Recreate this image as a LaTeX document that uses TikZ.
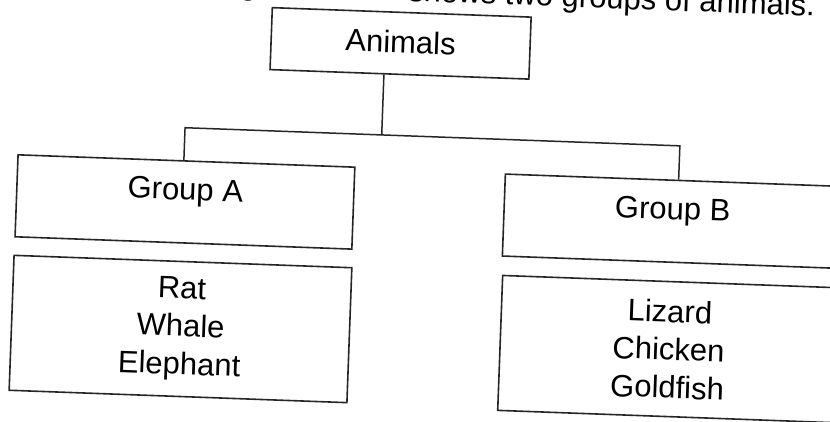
\documentclass[tikz,border=0pt]{standalone}
\usepackage{fontspec}
\setmainfont{Liberation Sans}
\usepackage{tikz}
\usetikzlibrary{calc}

\newcommand{\animfont}{\fontsize{31}{38}\selectfont}

\begin{document}
\begin{tikzpicture}[x=1pt,y=-1pt,
    box/.style={draw=black!85, line width=1.6pt, inner sep=0pt, align=center, font=\animfont},
    link/.style={draw=black!85, line width=1.5pt}]
    \useasboundingbox (0,0) rectangle (830,421);
    \clip (0,0) rectangle (830,421);
    \begin{scope}[rotate around={-2.1:(415,210)}, transform shape]
        % the sentence above, cut off by the page edge
        \node[anchor=base east, inner sep=0pt, font=\animfont] (title) at (807.5,1.5)
            {The diagram below shows two groups of animals.};
        \node[box, minimum width=259pt, text height=40.6pt, text depth=21.4pt] (animals) at (394.5,44) {Animals};
        \node[box, minimum width=337pt, text height=39pt, text depth=43pt] (grpA) at (184.8,210.4) {Group A};
        \node[box, minimum width=337pt, text height=39pt, text depth=43pt] (grpB) at (672.5,211.8) {Group B};
        \node[box, minimum width=338pt, minimum height=135pt] (listA) at (185,337.5) {Rat\\Whale\\Elephant};
        \node[box, minimum width=337pt, minimum height=135pt] (listB) at (673.5,339.7) {Lizard\\Chicken\\Goldfish};
        \draw[link] ([xshift=-15.5pt]animals.south) -- ++(0,60.4) coordinate (bar) -| ([xshift=-2.6pt]grpA.north);
        \draw[link] (bar) -| ([xshift=4.9pt]grpB.north);
    \end{scope}
\end{tikzpicture}
\end{document}
